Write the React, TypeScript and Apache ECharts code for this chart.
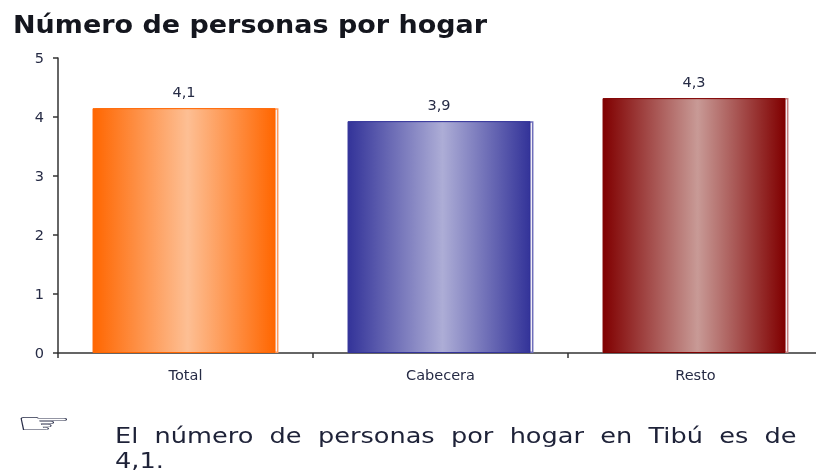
import React, { useEffect, useRef } from "react";
import * as echarts from "echarts";

const categories = ["Total", "Cabecera", "Resto"];
const values = [4.15, 3.93, 4.32];
const valueLabels = ["4,1", "3,9", "4,3"];
const edgeColors = ["#FF6600", "#333399", "#800000"];
const centerColors = ["#FDBF94", "#ADADD6", "#C89A96"];
const shadowBorders = ["#FF9A5C", "#6F6FBB", "#C47F7F"];
const yTicks = [0, 1, 2, 3, 4, 5];
const titleText = "Número de personas por hogar";
const noteLine1 = "El  número  de  personas  por  hogar  en  Tibú  es  de";
const noteLine2 = "4,1.";
const handGlyph = "\u261E";

export default function App() {
  const ref = useRef<HTMLDivElement>(null);
  useEffect(() => {
    document.body.style.margin = "0";
    const chart = echarts.init(ref.current!, null, { renderer: "svg" });
    const textColor = "#262B45";
    chart.setOption({
      animation: false,
      backgroundColor: "#ffffff",
      grid: { left: 58, top: 58, width: 765, height: 295, containLabel: false, outerBoundsMode: "none" },
      xAxis: {
        type: "category",
        data: categories,
        axisLine: { lineStyle: { color: "#333333", width: 1.5 } },
        axisTick: { show: true, alignWithLabel: false, length: 5, lineStyle: { color: "#333333", width: 1.5 } },
        axisLabel: { color: textColor, fontFamily: "DejaVu Sans", fontSize: 14.5, margin: 14 },
      },
      yAxis: {
        type: "value",
        min: yTicks[0],
        max: yTicks[yTicks.length - 1],
        interval: 1,
        splitLine: { show: false },
        axisLine: { show: true, lineStyle: { color: "#333333", width: 1.5 } },
        axisTick: { show: true, length: 5, lineStyle: { color: "#333333", width: 1.5 } },
        axisLabel: { color: textColor, fontFamily: "DejaVu Sans", fontSize: 14.5, margin: 14 },
      },
      series: [
        {
          type: "bar",
          name: "Personas por hogar",
          barWidth: 183,
          barGap: "-98.4%",
          z: 3,
          data: values.map((v, i) => ({
            value: v,
            itemStyle: {
              color: new echarts.graphic.LinearGradient(0, 0, 1, 0, [
                { offset: 0, color: edgeColors[i] },
                { offset: 0.52, color: centerColors[i] },
                { offset: 1, color: edgeColors[i] },
              ]),
              borderColor: edgeColors[i],
              borderWidth: 1,
            },
            label: {
              show: true,
              position: "top",
              distance: 9,
              formatter: valueLabels[i],
              color: textColor,
              fontFamily: "DejaVu Sans",
              fontSize: 14.5,
            },
          })),
        },
        {
          type: "bar",
          name: "Sombra",
          barWidth: 183,
          barGap: "-98.4%",
          z: 2,
          silent: true,
          data: values.map((v, i) => ({
            value: v,
            itemStyle: { color: "#F8F4F8", borderColor: shadowBorders[i], borderWidth: 1.5 },
          })),
        },
      ],
      graphic: [
        {
          type: "text",
          x: 13,
          y: 13,
          scaleX: 1.125,
          style: { text: titleText, font: "bold 24px 'DejaVu Sans'", fill: "#14161E" },
        },
        {
          type: "text",
          x: 15,
          y: 409,
          scaleX: 2.3,
          style: { text: handGlyph, font: "28px 'DejaVu Sans'", fill: "#2A2F4A" },
        },
        {
          type: "text",
          x: 115,
          y: 425,
          scaleX: 1.22,
          style: { text: noteLine1, font: "21px 'DejaVu Sans'", fill: "#1E2238" },
        },
        {
          type: "text",
          x: 115,
          y: 450,
          scaleX: 1.22,
          style: { text: noteLine2, font: "21px 'DejaVu Sans'", fill: "#1E2238" },
        },
      ],
    });
    return () => chart.dispose();
  }, []);
  return <div ref={ref} style={{ width: 816, height: 473, filter: "blur(0.45px)" }} />;
}
